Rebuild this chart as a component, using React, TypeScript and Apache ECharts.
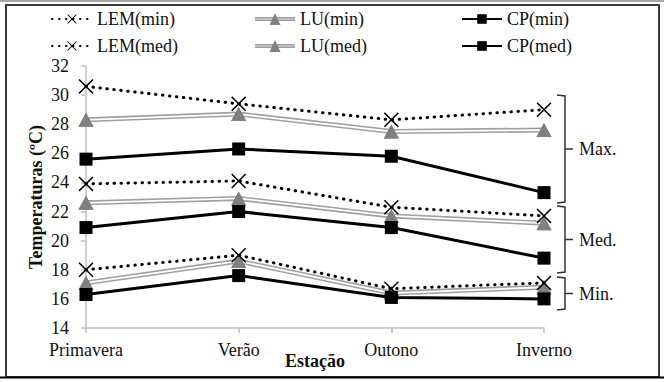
import React, { useEffect, useRef } from "react";
import * as echarts from "echarts";

const categories = ["Primavera", "Verão", "Outono", "Inverno"];
const lemMax = [30.6, 29.4, 28.3, 29.0];
const luMax = [28.3, 28.7, 27.5, 27.6];
const cpMax = [25.6, 26.3, 25.8, 23.3];
const lemMed = [23.9, 24.1, 22.3, 21.7];
const luMed = [22.6, 22.9, 21.7, 21.2];
const cpMed = [20.9, 22.0, 20.9, 18.8];
const lemMin = [18.0, 19.0, 16.7, 17.1];
const luMin = [17.1, 18.6, 16.4, 16.8];
const cpMin = [16.3, 17.6, 16.1, 16.0];
const yMin = 14;
const yMax = 32;
const yInterval = 2;
const groupLabels = ["Max.", "Med.", "Min."];
const legendCols = [
  ["LEM(min)", "LEM(med)"],
  ["LU(min)", "LU(med)"],
  ["CP(min)", "CP(med)"],
];

const FONT = "'Liberation Serif', 'Times New Roman', serif";
const X_SYMBOL =
  "path://M0,0.7L0.7,0L5,4.3L9.3,0L10,0.7L5.7,5L10,9.3L9.3,10L5,5.7L0.7,10L0,9.3L4.3,5Z";
const LU_LEGEND_ICON =
  "path://M0,4.2L40,4.2L40,5.4L0,5.4Z M0,6.6L40,6.6L40,7.8L0,7.8Z M14.5,12L20,0L25.5,12Z";

function lemSeries(name: string, data: number[]) {
  return {
    name,
    type: "line",
    data,
    z: 5,
    symbol: X_SYMBOL,
    symbolSize: 15,
    itemStyle: { color: "#000" },
    lineStyle: { color: "#000", width: 3, type: [0.5, 6.5], cap: "round" },
  };
}

function luSeries(name: string, data: number[]) {
  return [
    {
      name,
      type: "line",
      data,
      z: 2,
      symbol: "triangle",
      symbolSize: [15, 14],
      itemStyle: { color: "#808080" },
      lineStyle: { color: "#a0a0a0", width: 5 },
    },
    {
      name: name + "_inner",
      type: "line",
      data,
      z: 2,
      showSymbol: false,
      symbol: "none",
      lineStyle: { color: "#ffffff", width: 1.8 },
    },
    {
      name: name + "_marks",
      type: "line",
      data,
      z: 2,
      symbol: "triangle",
      symbolSize: [15, 14],
      itemStyle: { color: "#808080" },
      lineStyle: { opacity: 0, width: 0 },
    },
  ];
}

function cpSeries(name: string, data: number[]) {
  return {
    name,
    type: "line",
    data,
    z: 3,
    symbol: "rect",
    symbolSize: 13,
    itemStyle: { color: "#000" },
    lineStyle: { color: "#000", width: 3 },
  };
}

function bracket(top: number, bottom: number, label: string) {
  const x = 565;
  const mid = (top + bottom) / 2;
  return [
    {
      type: "polyline",
      shape: { points: [[557, top], [x, top + 1], [x, bottom - 1], [557, bottom]] },
      style: { stroke: "#333", lineWidth: 1.5, fill: null },
    },
    {
      type: "line",
      shape: { x1: x, y1: mid, x2: 573, y2: mid },
      style: { stroke: "#333", lineWidth: 1.5 },
    },
    {
      type: "text",
      x: 579,
      y: mid,
      style: {
        text: label,
        font: `18px ${FONT}`,
        fill: "#111",
        verticalAlign: "middle",
        align: "left",
      },
    },
  ];
}

export default function App() {
  const ref = useRef<HTMLDivElement>(null);
  useEffect(() => {
    if (!ref.current) return;
    const chart = echarts.init(ref.current, undefined, { renderer: "svg" });
    const legendLefts = [46, 250, 456];
    chart.setOption({
      animation: false,
      backgroundColor: "#fff",
      textStyle: { fontFamily: FONT },
      legend: legendCols.map((col, i) => ({
        data: col.map((n) => (n.startsWith("LU") ? { name: n, icon: LU_LEGEND_ICON } : n)),
        orient: "vertical",
        left: legendLefts[i],
        top: 4,
        itemWidth: 40,
        itemHeight: 12,
        itemGap: 7,
        selectedMode: false,
        textStyle: { fontFamily: FONT, fontSize: 18, color: "#111", lineHeight: 20 },
      })),
      grid: { left: 86, right: 120, top: 66, bottom: 54, containLabel: false },
      xAxis: {
        type: "category",
        data: categories,
        boundaryGap: false,
        name: "Estação",
        nameLocation: "middle",
        nameGap: 24,
        nameMoveOverlap: false,
        nameTextStyle: { fontFamily: FONT, fontSize: 18, fontWeight: "bold", color: "#111" },
        axisLine: { lineStyle: { color: "#bfbfbf", width: 1.5 } },
        axisTick: { alignWithLabel: true, length: 5, lineStyle: { color: "#bfbfbf", width: 1.5 } },
        axisLabel: { fontFamily: FONT, fontSize: 18, color: "#111", margin: 13 },
        splitLine: { show: false },
      },
      yAxis: {
        type: "value",
        min: yMin,
        max: yMax,
        interval: yInterval,
        name: "Temperaturas (ºC)",
        nameLocation: "middle",
        nameGap: 41,
        nameMoveOverlap: false,
        nameTextStyle: { fontFamily: FONT, fontSize: 18, fontWeight: "bold", color: "#111" },
        axisLine: { show: true, lineStyle: { color: "#bfbfbf", width: 1.5 } },
        axisTick: { show: true, length: 5, lineStyle: { color: "#bfbfbf", width: 1.5 } },
        axisLabel: { fontFamily: FONT, fontSize: 18, color: "#111", margin: 17 },
        splitLine: { show: false },
      },
      series: [
        ...luSeries("LU(max)", luMax),
        ...luSeries("LU(med)", luMed),
        ...luSeries("LU(min)", luMin),
        cpSeries("CP(max)", cpMax),
        cpSeries("CP(med)", cpMed),
        cpSeries("CP(min)", cpMin),
        lemSeries("LEM(max)", lemMax),
        lemSeries("LEM(med)", lemMed),
        lemSeries("LEM(min)", lemMin),
      ],
      graphic: [
        {
          type: "line",
          shape: { x1: 0, y1: 1, x2: 664, y2: 1 },
          style: { stroke: "#8a8a8a", lineWidth: 1.5 },
          silent: true,
        },
        {
          type: "rect",
          shape: { x: 6, y: 5, width: 653, height: 372 },
          style: { stroke: "#3a3a3a", lineWidth: 2, fill: null },
          silent: true,
        },
        {
          type: "line",
          shape: { x1: 0, y1: 377.5, x2: 664, y2: 377.5 },
          style: { stroke: "#000", lineWidth: 2 },
          silent: true,
        },
        ...bracket(95, 203, groupLabels[0]),
        ...bracket(206, 273, groupLabels[1]),
        ...bracket(277, 310, groupLabels[2]),
      ],
    });
    return () => chart.dispose();
  }, []);
  return (
    <div
      ref={ref}
      style={{ position: "absolute", left: 0, top: 0, width: 664, height: 382 }}
    />
  );
}
